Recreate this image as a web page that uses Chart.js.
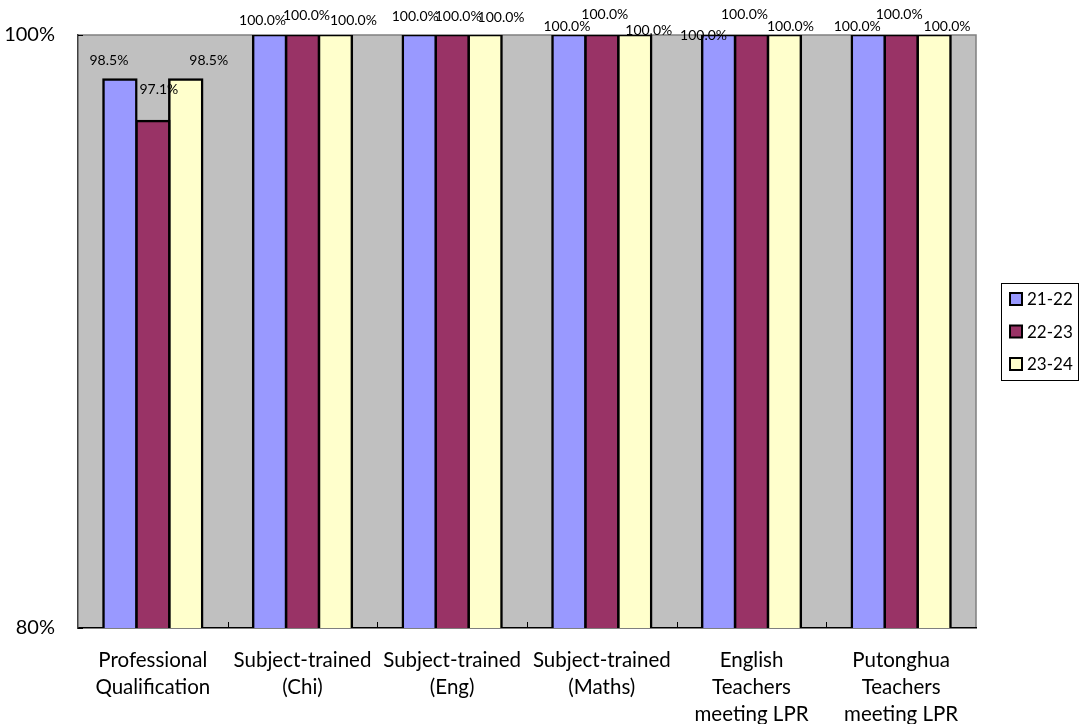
<!DOCTYPE html>
<html lang="en">
<head>
    <meta charset="UTF-8">
    <title>Teacher Qualification Rates</title>
    <script src="https://cdn.jsdelivr.net/npm/chart.js@4.4.1/dist/chart.umd.min.js"></script>
    <style>
        body { margin: 0; background: #fff; }
    </style>
</head>
<body>
    <canvas id="chart" width="1081" height="724"></canvas>
    <script>

const categories = [
    ['Professional', 'Qualification'],
    ['Subject-trained', '(Chi)'],
    ['Subject-trained', '(Eng)'],
    ['Subject-trained', '(Maths)'],
    ['English', 'Teachers', 'meeting LPR'],
    ['Putonghua', 'Teachers', 'meeting LPR']
];
const years = ['21-22', '22-23', '23-24'];
const y2122 = [98.5, 100, 100, 100, 100, 100];
const y2223 = [97.1, 100, 100, 100, 100, 100];
const y2324 = [98.5, 100, 100, 100, 100, 100];
const yTicks = [80, 100];

const barColors = ['#9999ff', '#993366', '#ffffcc'];

// value labels are nudged a little so the crowded 100.0% ones don't sit on top of each other
const labelNudge = [
    [[-11, -19], [-7, -15], [-4, -19], [-2, -9], [-15, 0], [-11, -9]],
    [[6, -32], [4, -20], [6, -19], [3, -21], [-7, -21], [-2, -21]],
    [[23, -19], [18, -15], [16, -18], [14, -5], [6, -9], [13, -9]]
];

const FONT = 'Lato, "Open Sans", sans-serif';

// grey plot background
const plotBackground = {
    id: 'plotBackground',
    beforeDraw(chart) {
        const { ctx, chartArea: a } = chart;
        ctx.save();
        ctx.fillStyle = '#c0c0c0';
        ctx.fillRect(a.left, a.top, a.right - a.left, a.bottom - a.top);
        ctx.strokeStyle = '#808080';
        ctx.lineWidth = 1.5;
        ctx.beginPath();
        ctx.moveTo(a.left, a.top);
        ctx.lineTo(a.right, a.top);
        ctx.lineTo(a.right, a.bottom);
        ctx.stroke();
        ctx.restore();
    }
};

// small inward ticks, value labels and the boxed legend
const extras = {
    id: 'extras',
    afterDatasetsDraw(chart) {
        const { ctx, chartArea: a } = chart;
        const xs = chart.scales.x;
        const ys = chart.scales.y;
        ctx.save();

        ctx.strokeStyle = '#000';
        ctx.lineWidth = 1;
        ctx.beginPath();
        for (let i = 0; i < categories.length - 1; i++) {
            const px = Math.round((xs.getPixelForValue(i) + xs.getPixelForValue(i + 1)) / 2) + 0.5;
            ctx.moveTo(px, a.bottom);
            ctx.lineTo(px, a.bottom - 6);
        }
        yTicks.forEach(v => {
            const py = Math.round(ys.getPixelForValue(v)) + 0.5;
            ctx.moveTo(a.left, py);
            ctx.lineTo(a.left + 5, py);
        });
        ctx.stroke();

        ctx.font = '14px ' + FONT;
        ctx.fillStyle = '#000';
        ctx.textAlign = 'center';
        ctx.textBaseline = 'middle';
        chart.data.datasets.forEach((ds, di) => {
            const meta = chart.getDatasetMeta(di);
            meta.data.forEach((bar, i) => {
                const [dx, dy] = labelNudge[di][i];
                ctx.fillText(ds.data[i].toFixed(1) + '%', bar.x + dx, bar.y + dy);
            });
        });

        // legend
        const lx = 1001, ly = 283, lw = 77, lh = 97;
        ctx.fillStyle = '#fff';
        ctx.fillRect(lx, ly, lw, lh);
        ctx.strokeStyle = '#000';
        ctx.lineWidth = 1;
        ctx.strokeRect(lx + 0.5, ly + 0.5, lw, lh);
        ctx.font = '17px ' + FONT;
        ctx.textAlign = 'left';
        chart.data.datasets.forEach((ds, di) => {
            const cy = 299 + di * 32.5;
            ctx.fillStyle = ds.backgroundColor;
            ctx.fillRect(1010, cy - 6, 12, 12);
            ctx.lineWidth = 2;
            ctx.strokeRect(1010, cy - 6, 12, 12);
            ctx.fillStyle = '#000';
            ctx.fillText(ds.label, 1027, cy + 1);
        });
        ctx.restore();
    }
};

const seriesValues = [y2122, y2223, y2324];

new Chart(document.getElementById('chart'), {
    type: 'bar',
    data: {
        labels: categories,
        datasets: years.map((yr, i) => ({
            label: yr,
            data: seriesValues[i],
            backgroundColor: barColors[i],
            borderColor: '#000',
            borderWidth: 2.5,
            borderSkipped: false,
            inflateAmount: 1.25,
            categoryPercentage: 0.66,
            barPercentage: 1.0
        }))
    },
    options: {
        responsive: false,
        animation: false,
        layout: { padding: { left: 0, right: 105, top: 32, bottom: 0 } },
        plugins: {
            legend: { display: false },
            tooltip: { enabled: false }
        },
        scales: {
            x: {
                grid: { display: false, drawTicks: false },
                border: { display: true, color: '#000', width: 1.5 },
                ticks: {
                    color: '#000',
                    autoSkip: false,
                    maxRotation: 0,
                    padding: 19,
                    font: { family: FONT, size: 20.5, lineHeight: 1.32 }
                },
                afterFit(scale) { scale.height = 96; }
            },
            y: {
                min: 80,
                max: 100,
                grid: { display: false, drawTicks: false },
                border: { display: true, color: '#404040', width: 1.5 },
                afterBuildTicks(scale) { scale.ticks = yTicks.map(v => ({ value: v })); },
                ticks: {
                    color: '#000',
                    padding: 23,
                    font: { family: FONT, size: 20 },
                    callback: v => v + '%'
                },
                afterFit(scale) { scale.width = 78; }
            }
        }
    },
    plugins: [plotBackground, extras]
});
    </script>
</body>
</html>
